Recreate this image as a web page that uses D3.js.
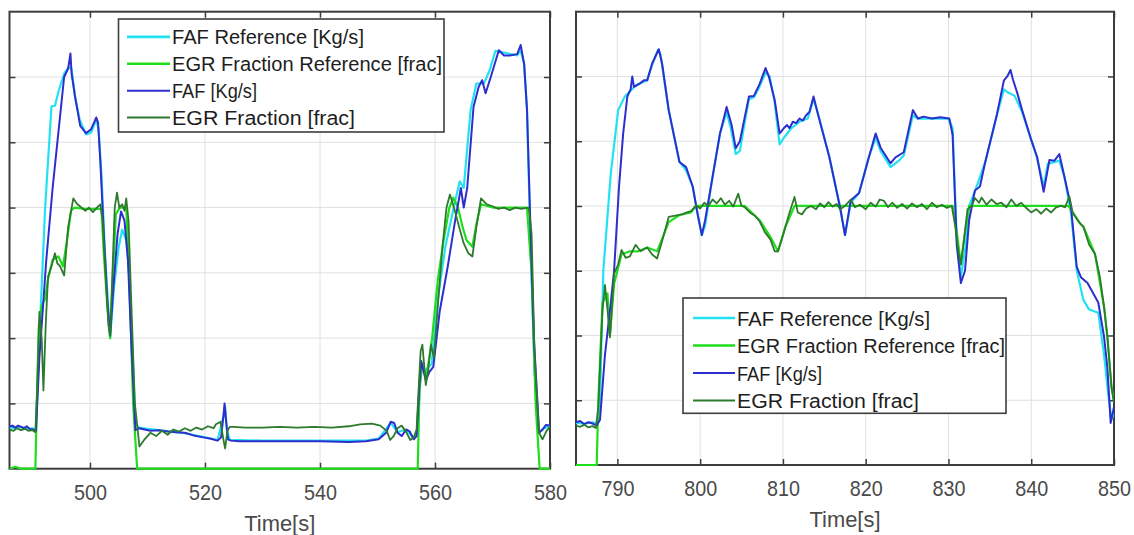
<!DOCTYPE html>
<html>
<head>
<meta charset="utf-8">
<script src="https://cdn.jsdelivr.net/npm/d3@7/dist/d3.min.js"></script>
<style>
  html, body { margin: 0; padding: 0; background: #fff; }
  svg { display: block; }
  text { font-family: "Liberation Sans", Arial, sans-serif; }
</style>
</head>
<body>
<svg id="chart" width="1134" height="535"></svg>
<script>
// ---- Tick values ----
const leftTicksX = [500, 520, 540, 560, 580];
const rightTicksX = [790, 800, 810, 820, 830, 840, 850];
const ticksY = [0.1, 0.2, 0.3, 0.4, 0.5, 0.6];

// ---- Legend ----
const legendLabels = ["FAF Reference [Kg/s]", "EGR Fraction Reference [frac]", "FAF [Kg/s]", "EGR Fraction [frac]"];
const seriesColors = ["#22e2f2", "#1ede1e", "#2e2ecf", "#2d7a2d"];

// ---- Window 1 (486 s - 580 s): [time s, value] ----
const leftFafRef = [[486,.063],[487,.062],[488,.064],[489,.061],[490,.062],[490.6,.060],[491.2,.20],[492.2,.40],[493.3,.555],[493.9,.556],[494.6,.58],[495.5,.605],[496.3,.615],[496.8,.612],[497.4,.57],[498.2,.535],[499.3,.512],[500.2,.515],[501.1,.535],[501.5,.52],[502.0,.45],[502.6,.33],[503.5,.20],[504.2,.28],[505.0,.34],[505.6,.366],[506.3,.35],[506.8,.30],[507.4,.18],[507.9,.07],[508.5,.063],[510,.061],[513,.058],[516,.055],[519.7,.049],[522.2,.044],[523.2,.08],[523.5,.095],[523.8,.06],[524.3,.044],[530,.043],[540,.043],[548,.043],[550.2,.046],[552.3,.07],[553.5,.056],[555,.06],[556.3,.046],[557,.06],[557.5,.16],[558.2,.15],[559.4,.16],[560.5,.26],[561.8,.34],[563.5,.41],[564.3,.44],[565,.43],[566.2,.55],[567.2,.59],[568.5,.59],[569.5,.61],[570.5,.64],[574.3,.633],[574.9,.64],[575.5,.62],[576.0,.55],[576.6,.35],[577.3,.15],[578,.055],[579,.062],[580,.065]];
const leftEgrRef = [[486,0],[487,.003],[488,0],[490.5,0],[490.7,.08],[491.1,.22],[491.6,.25],[492.2,.26],[492.7,.29],[493.5,.32],[494.5,.325],[495.3,.31],[496.0,.35],[496.7,.395],[497.3,.40],[499,.398],[501,.398],[502,.398],[502.4,.33],[503,.25],[503.5,.20],[504,.30],[504.5,.39],[505.2,.40],[506.3,.40],[506.8,.30],[507.5,.10],[508.2,0],[557,0],[557.3,.12],[557.8,.16],[558.5,.14],[559.5,.20],[560.5,.29],[561.5,.35],[562.5,.40],[563.2,.415],[564,.40],[564.8,.37],[565.5,.35],[566.5,.34],[567.2,.375],[568,.405],[570,.40],[572,.40],[574,.40],[576,.40],[576.8,.30],[577.5,.10],[578.2,0],[580,0]];
const leftFaf = [[486,.064],[486.5,.066],[487,.063],[487.5,.066],[488,.064],[488.5,.062],[489,.065],[489.5,.061],[490,.060],[490.6,.058],[491.2,.17],[492.4,.32],[493.5,.43],[494.9,.549],[495.5,.60],[496.2,.613],[496.5,.63],[496.6,.636],[496.8,.605],[497.4,.57],[498.3,.525],[499.3,.514],[500.2,.52],[501.1,.538],[501.4,.53],[501.8,.47],[502.4,.36],[503.0,.26],[503.5,.204],[504.0,.27],[504.8,.36],[505.4,.394],[506.0,.38],[506.6,.32],[507.2,.19],[507.9,.059],[508.5,.062],[509.5,.060],[510.5,.058],[512,.059],[513.5,.057],[515,.056],[516.5,.055],[518,.051],[519.7,.048],[521,.046],[522.2,.043],[522.8,.048],[523.2,.08],[523.4,.10],[523.7,.07],[524.0,.045],[524.5,.043],[526,.042],[530,.042],[535,.042],[540,.042],[545,.041],[548,.042],[550.2,.045],[551.5,.055],[552.3,.072],[552.9,.070],[553.5,.055],[554.2,.050],[555.0,.060],[555.6,.057],[556.3,.045],[556.8,.050],[557.3,.13],[557.6,.165],[558.0,.15],[558.4,.135],[559.0,.148],[559.7,.156],[560.8,.24],[562.2,.309],[563.5,.38],[564.5,.43],[565.0,.40],[565.6,.43],[566.7,.554],[567.6,.585],[568.2,.595],[568.8,.575],[569.7,.60],[571.1,.641],[572,.633],[573,.633],[574.3,.635],[574.9,.649],[575.5,.62],[576.0,.55],[576.5,.40],[577.2,.20],[578.1,.055],[578.7,.06],[579.3,.067],[580,.066]];
const leftEgr = [[486,.06],[486.7,.058],[487.3,.062],[488,.059],[488.7,.061],[489.3,.058],[490,.059],[490.5,.056],[490.8,.12],[491.2,.24],[491.6,.20],[491.9,.12],[492.3,.22],[492.7,.294],[493.3,.31],[493.9,.33],[494.3,.315],[494.8,.31],[495.5,.296],[496.2,.37],[497.1,.414],[497.8,.405],[498.5,.40],[499.2,.395],[499.8,.40],[500.5,.393],[501.2,.40],[501.8,.405],[502.2,.38],[502.7,.30],[503.2,.22],[503.5,.204],[503.9,.30],[504.3,.40],[504.7,.423],[505.1,.40],[505.6,.405],[506.0,.395],[506.3,.414],[506.7,.38],[507.2,.25],[507.8,.10],[508.6,.034],[509.5,.045],[510.5,.055],[511.5,.050],[512.5,.058],[513.5,.052],[514.5,.060],[515.5,.057],[516.5,.062],[517.5,.058],[518.5,.063],[519.5,.060],[520.5,.065],[521.5,.062],[521.9,.068],[522.7,.072],[523.2,.045],[523.5,.031],[523.9,.058],[524.3,.064],[525,.064],[527,.063],[530,.063],[533,.064],[536,.063],[539,.064],[542,.063],[545,.065],[547,.068],[549,.069],[550.5,.066],[551.6,.058],[552.2,.044],[552.8,.050],[553.5,.062],[554.2,.066],[555,.056],[555.7,.044],[556.3,.048],[556.8,.060],[557.2,.13],[557.5,.18],[557.8,.19],[558.2,.15],[558.4,.128],[558.8,.15],[559.3,.19],[559.8,.17],[560.5,.25],[561.3,.34],[562,.40],[562.6,.42],[563.3,.40],[564.2,.37],[565,.345],[565.8,.33],[566.5,.325],[567.2,.37],[568,.414],[569,.405],[570,.402],[571,.398],[572,.40],[573,.396],[574,.40],[575,.398],[576.3,.40],[576.8,.36],[577.3,.178],[578.1,.055],[578.7,.045],[579.4,.058],[580,.064]];

// ---- Window 2 (785 s - 850 s): [time s, value] ----
const rightFafRef = [[785,.065],[786,.064],[787,.066],[787.6,.064],[787.9,.10],[788.3,.30],[789.2,.45],[790.1,.548],[790.9,.569],[792.3,.587],[793.6,.594],[794.2,.618],[794.9,.641],[795.2,.635],[796.2,.548],[797.5,.468],[798.3,.455],[799.1,.43],[799.7,.387],[800.2,.355],[800.6,.37],[801.5,.445],[802.4,.512],[803.2,.545],[803.7,.52],[804.3,.48],[804.8,.485],[805.4,.53],[805.9,.565],[806.5,.568],[807.2,.585],[807.9,.606],[808.4,.60],[809,.56],[809.6,.495],[810.1,.505],[811,.52],[812,.53],[813,.535],[813.7,.565],[814.2,.545],[815.6,.476],[816.9,.398],[817.5,.355],[818.2,.405],[819.2,.42],[820.4,.476],[821.2,.505],[821.8,.485],[823,.46],[824,.47],[824.6,.478],[825.7,.54],[826.3,.535],[827,.535],[830,.535],[830.5,.52],[831,.35],[831.5,.29],[832.1,.34],[832.5,.40],[833.2,.423],[834.5,.47],[835.8,.538],[836.7,.58],[837.1,.576],[838,.57],[838.9,.545],[840,.502],[840.7,.475],[841.5,.43],[842,.465],[843.4,.47],[844,.445],[844.8,.39],[845.5,.30],[846.3,.255],[847,.24],[848.1,.235],[848.8,.17],[849.3,.11],[849.7,.07],[850,.08]];
const rightEgrRef = [[785,0],[787.5,0],[787.7,.10],[788.2,.25],[788.8,.265],[789.1,.20],[789.6,.28],[790.5,.325],[791.5,.33],[792.5,.33],[793.6,.336],[794.8,.33],[796.2,.375],[797.5,.386],[798.9,.39],[799.5,.40],[805.4,.40],[807.2,.378],[808.5,.352],[809.4,.33],[810.3,.368],[811.4,.40],[830.5,.40],[831,.36],[831.5,.31],[832,.36],[832.5,.40],[844.5,.40],[845.9,.373],[846.3,.368],[847.7,.326],[848.8,.244],[849.2,.198],[849.7,.12],[850,.10]];
const rightFaf = [[785,.066],[785.5,.068],[786,.063],[786.5,.066],[787,.064],[787.5,.061],[787.9,.07],[788.5,.17],[789.2,.25],[789.6,.30],[790.2,.43],[790.7,.512],[791.2,.569],[791.6,.58],[791.8,.60],[792.0,.584],[792.6,.588],[793.2,.594],[793.6,.594],[794.2,.62],[795,.642],[795.4,.62],[796.2,.548],[797.5,.468],[798.3,.46],[799.1,.43],[799.7,.387],[800.2,.355],[800.6,.378],[801.5,.445],[802.4,.512],[803.2,.553],[803.8,.525],[804.3,.489],[804.8,.50],[805.4,.538],[805.9,.569],[806.5,.57],[807.2,.589],[807.9,.613],[808.3,.60],[809,.564],[809.6,.512],[810.1,.52],[810.5,.525],[810.8,.52],[811.2,.53],[811.6,.528],[812,.535],[812.4,.532],[812.8,.54],[813.2,.545],[813.7,.569],[814.2,.543],[815.6,.476],[816.9,.398],[817.5,.355],[818.2,.409],[819.2,.42],[820.4,.476],[821.2,.512],[821.8,.49],[823,.466],[823.6,.475],[824.6,.483],[825.7,.548],[826.3,.535],[827,.538],[828,.535],[829,.537],[830.1,.535],[830.5,.51],[831,.34],[831.5,.281],[832,.30],[832.5,.378],[833.2,.424],[833.8,.43],[834.5,.471],[835.8,.538],[836.7,.594],[837.1,.60],[837.5,.61],[837.8,.595],[838.3,.575],[838.9,.548],[840,.502],[840.7,.476],[841.5,.422],[842.2,.471],[842.8,.47],[843.4,.48],[844,.446],[844.8,.399],[845.5,.306],[846,.29],[846.8,.281],[847.5,.265],[848.1,.251],[848.8,.198],[849.2,.15],[849.6,.065],[850,.09]];
const rightEgr = [[785,.061],[785.5,.059],[786,.062],[786.5,.058],[787,.06],[787.4,.057],[787.7,.09],[788.2,.24],[788.5,.278],[788.8,.24],[789.1,.197],[789.6,.295],[790.1,.31],[790.5,.332],[791,.32],[791.5,.322],[792.2,.34],[792.8,.33],[793.6,.336],[794.2,.325],[794.8,.319],[795.5,.35],[796.2,.383],[797,.385],[797.8,.387],[798.4,.39],[798.9,.392],[799.5,.401],[800,.396],[800.5,.405],[801,.40],[801.5,.41],[802,.404],[802.5,.412],[803,.402],[803.5,.408],[804,.399],[804.6,.419],[805,.40],[805.4,.398],[806,.39],[806.6,.385],[807.2,.376],[807.8,.36],[808.5,.348],[809,.33],[809.4,.33],[809.9,.35],[810.3,.368],[810.8,.39],[811.4,.414],[811.8,.39],[812.3,.387],[812.8,.396],[813.4,.40],[814,.395],[814.5,.404],[815,.398],[815.5,.406],[816,.399],[816.5,.403],[816.9,.395],[817.5,.40],[818.2,.41],[818.7,.398],[819.3,.402],[820,.395],[820.6,.405],[821.2,.399],[821.7,.41],[822.2,.408],[822.7,.398],[823.2,.405],[823.8,.397],[824.4,.403],[825,.396],[825.6,.404],[826.2,.398],[826.8,.403],[827.4,.395],[828,.405],[828.6,.398],[829.2,.402],[829.8,.397],[830.4,.40],[830.8,.37],[831.2,.33],[831.5,.31],[831.9,.35],[832.3,.395],[832.8,.40],[833.2,.412],[833.7,.405],[834,.413],[834.6,.402],[835.2,.41],[835.8,.403],[836.4,.405],[837,.398],[837.6,.41],[838.2,.40],[838.8,.405],[839.3,.398],[840,.39],[840.6,.395],[841.2,.388],[841.8,.396],[842.4,.39],[843,.398],[843.6,.40],[844.1,.398],[844.6,.415],[845,.39],[845.5,.38],[845.9,.373],[846.3,.368],[847,.34],[847.7,.326],[848.3,.29],[848.8,.244],[849.2,.198],[849.7,.12],[850,.095]];

const svg = d3.select("#chart");
svg.append("rect").attr("width", 1134).attr("height", 535).attr("fill", "#fff");

const frameColor = "#3d3d3d";
const lineWidths = [2.2, 2.2, 2.0, 1.8];

function drawPanel(p) {
  const x = d3.scaleLinear().domain(p.xDomain).range([p.left, p.right]);
  const y = d3.scaleLinear().domain([0, 0.7]).range([p.bottom, p.top]);
  const g = svg.append("g").attr("class", p.id);

  // grid
  g.append("g").selectAll("line").data(p.ticksX.filter(t => x(t) < p.right - 2))
    .join("line")
    .attr("x1", d => x(d)).attr("x2", d => x(d))
    .attr("y1", p.top).attr("y2", p.bottom)
    .attr("stroke", "#e0e0e0").attr("stroke-width", 1);
  g.append("g").selectAll("line").data(ticksY)
    .join("line")
    .attr("x1", p.left).attr("x2", p.right)
    .attr("y1", d => y(d)).attr("y2", d => y(d))
    .attr("stroke", "#e0e0e0").attr("stroke-width", 1);

  // axes (ticks pointing inward, box on)
  const styleAxis = sel => {
    sel.select(".domain").remove();
    sel.selectAll(".tick line").attr("stroke", frameColor).attr("stroke-width", 1.5);
  };
  g.append("g").attr("transform", `translate(0,${p.bottom})`)
    .call(d3.axisBottom(x).tickValues(p.ticksX).tickFormat(d3.format("d"))
      .tickSizeInner(-6).tickSizeOuter(0).tickPadding(p.labelPad))
    .call(styleAxis)
    .call(s => s.selectAll(".tick text")
      .attr("fill", "#4a4a4a").attr("font-size", 22)
      .attr("font-family", "'Liberation Sans', Arial, sans-serif")
      .attr("textLength", 33).attr("lengthAdjust", "spacingAndGlyphs"));
  g.append("g").attr("transform", `translate(0,${p.top})`)
    .call(d3.axisTop(x).tickValues(p.ticksX).tickFormat("")
      .tickSizeInner(-6).tickSizeOuter(0))
    .call(styleAxis);
  g.append("g").attr("transform", `translate(${p.left},0)`)
    .call(d3.axisLeft(y).tickValues(ticksY).tickFormat("")
      .tickSizeInner(-6).tickSizeOuter(0))
    .call(styleAxis);
  g.append("g").attr("transform", `translate(${p.right},0)`)
    .call(d3.axisRight(y).tickValues(ticksY).tickFormat("")
      .tickSizeInner(-6).tickSizeOuter(0))
    .call(styleAxis);

  g.append("rect")
    .attr("x", p.left).attr("y", p.top)
    .attr("width", p.right - p.left).attr("height", p.bottom - p.top)
    .attr("fill", "none").attr("stroke", frameColor).attr("stroke-width", 2);

  // data traces, drawn over the frame so the zero-level reference shows on the bottom edge
  const clipId = "clip-" + p.id;
  svg.append("clipPath").attr("id", clipId).append("rect")
    .attr("x", p.left).attr("y", p.top)
    .attr("width", p.right - p.left).attr("height", p.bottom - p.top + 1.2);
  const line = d3.line().x(d => x(d[0])).y(d => y(d[1]));
  g.append("g").attr("clip-path", `url(#${clipId})`)
    .selectAll("path").data(p.series).join("path")
    .attr("d", d => line(d))
    .attr("fill", "none")
    .attr("stroke", (d, i) => seriesColors[i])
    .attr("stroke-width", (d, i) => lineWidths[i])
    .attr("stroke-linejoin", "round");

  g.append("text")
    .attr("x", (p.left + p.right) / 2).attr("y", p.titleY)
    .attr("text-anchor", "middle")
    .attr("font-size", 22).attr("fill", "#4a4a4a")
    .attr("textLength", 71).attr("lengthAdjust", "spacingAndGlyphs")
    .text("Time[s]");

  // legend
  const L = p.legend;
  const lg = g.append("g");
  lg.append("rect")
    .attr("x", L.x).attr("y", L.y).attr("width", L.w).attr("height", L.h)
    .attr("fill", "#fff").attr("stroke", frameColor).attr("stroke-width", 1.6);
  const rows = lg.selectAll("g").data(legendLabels).join("g")
    .attr("transform", (d, i) => `translate(0,${L.firstBase + i * L.step})`);
  rows.append("line")
    .attr("x1", L.lineX0).attr("x2", L.lineX1)
    .attr("y1", -7.5).attr("y2", -7.5)
    .attr("stroke", (d, i) => seriesColors[i])
    .attr("stroke-width", (d, i) => i < 2 ? 2.6 : 2);
  rows.append("text")
    .attr("x", L.textX).attr("y", 0)
    .attr("font-size", 20).attr("fill", "#1e1e1e")
    .attr("textLength", (d, i) => L.widths[i]).attr("lengthAdjust", "spacingAndGlyphs")
    .text(d => d);
}

drawPanel({
  id: "w1", xDomain: [486, 580], left: 9.5, right: 550, top: 11.7, bottom: 468.7,
  ticksX: leftTicksX, labelPad: 15.7, titleY: 530.5,
  series: [leftFafRef, leftEgrRef, leftFaf, leftEgr],
  legend: { x: 118.5, y: 19, w: 325.5, h: 113, firstBase: 44.4, step: 26.9,
            lineX0: 127, lineX1: 170, textX: 172, widths: [192, 270, 85, 183] }
});

drawPanel({
  id: "w2", xDomain: [785, 850], left: 576, right: 1114, top: 11.7, bottom: 465,
  ticksX: rightTicksX, labelPad: 15.4, titleY: 526.5,
  series: [rightFafRef, rightEgrRef, rightFaf, rightEgr],
  legend: { x: 683, y: 298, w: 323, h: 115.3, firstBase: 325.5, step: 27.5,
            lineX0: 693, lineX1: 735, textX: 737, widths: [193, 268, 85, 182] }
});
</script>
</body>
</html>
